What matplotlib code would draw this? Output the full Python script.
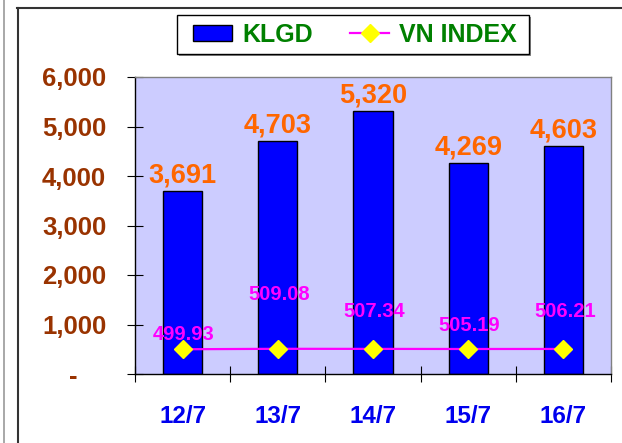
import matplotlib
matplotlib.use("Agg")
import matplotlib.pyplot as plt
from matplotlib.lines import Line2D
from matplotlib.patches import Rectangle
import numpy as np

plt.rcParams['font.family'] = ['Liberation Sans', 'DejaVu Sans']
plt.rcParams['font.weight'] = 'bold'

# ---- data ----
categories = ['12/7', '13/7', '14/7', '15/7', '16/7']
klgd = [3691, 4703, 5320, 4269, 4603]
klgd_labels = ['3,691', '4,703', '5,320', '4,269', '4,603']
vn_index = [499.93, 509.08, 507.34, 505.19, 506.21]
vn_labels = ['499.93', '509.08', '507.34', '505.19', '506.21']
ytick_values = [0, 1000, 2000, 3000, 4000, 5000, 6000]
ytick_labels = ['-    ', '1,000', '2,000', '3,000', '4,000', '5,000', '6,000']

# label vertical offsets (points) for VN INDEX labels, as in the original
vn_label_dy = [6.5, 35, 23, 13, 23]

W, H = 622, 443
fig = plt.figure(figsize=(W / 100, H / 100), dpi=100)
fig.patch.set_facecolor('white')

ax = fig.add_axes([135 / W, 1 - 374 / H, 476 / W, 297 / H])
ax.set_facecolor('#ccccff')

x = np.arange(len(categories))
bars = ax.bar(x, klgd, width=0.41, color='#0000ff', edgecolor='black',
              linewidth=1.0, label='KLGD', zorder=2)
line, = ax.plot(x, vn_index, color='#ff00ff', linewidth=1.6, marker='D',
                markersize=9.5, markerfacecolor='#ffff00',
                markeredgecolor='#ffff00', label='VN INDEX', zorder=3)

for xi, v, lab in zip(x, klgd, klgd_labels):
    ax.annotate(lab, (xi, v), xytext=(0, 6), textcoords='offset points',
                ha='center', va='baseline', color='#ff6600',
                fontsize=19.5, fontweight='bold')

for xi, v, lab, dy in zip(x, vn_index, vn_labels, vn_label_dy):
    ax.annotate(lab, (xi, v), xytext=(1, dy), textcoords='offset points',
                ha='center', va='baseline', color='#ff00ff',
                fontsize=14.5, fontweight='bold', zorder=4)

ax.set_xlim(-0.5, len(categories) - 0.5)
ax.set_ylim(0, 6000)

ax.set_yticks(ytick_values)
ax.set_yticklabels(ytick_labels)
ax.tick_params(axis='y', direction='inout', length=11.5, width=0.8,
               pad=15, labelsize=18.5, labelcolor='#993300', color='black')

ax.set_xticks(x)
ax.set_xticklabels(categories)
ax.set_xticks(np.arange(-0.5, len(categories), 1.0), minor=True)
ax.tick_params(axis='x', which='major', length=0, pad=22, labelsize=17.5,
               labelcolor='#0000ee')
ax.tick_params(axis='x', which='minor', direction='inout', length=11.5,
               width=0.8, color='black')
for t in ax.get_yticklabels() + ax.get_xticklabels():
    t.set_fontweight('bold')

ax.spines['left'].set_color('black')
ax.spines['bottom'].set_color('black')
ax.spines['top'].set_color('#808080')
ax.spines['right'].set_color('#808080')
for s in ax.spines.values():
    s.set_linewidth(1.0)

# legend (frame drawn separately to match original box)
leg = fig.legend(handles=[bars, line], labels=['KLGD', 'VN INDEX'],
                 loc='center', bbox_to_anchor=(355 / W, 1 - 34.5 / H),
                 bbox_transform=fig.transFigure, ncol=2, frameon=False,
                 fontsize=18, handlelength=1.55, handleheight=0.6,
                 handletextpad=0.4, columnspacing=1.5, borderpad=0.35)
for t in leg.get_texts():
    t.set_color('#008000')
    t.set_fontweight('bold')

# legend box with slight shadow
fig.add_artist(Rectangle((179 / W, 1 - 56 / H), 352 / W, 39 / H,
                         transform=fig.transFigure, facecolor='#888888',
                         edgecolor='none', zorder=0.5))
fig.add_artist(Rectangle((177 / W, 1 - 54 / H), 352 / W, 39 / H,
                         transform=fig.transFigure, facecolor='white',
                         edgecolor='black', linewidth=1.0, zorder=0.6))

# outer frame lines
fig.add_artist(Line2D([3.5 / W, 3.5 / W], [0, 1], transform=fig.transFigure,
                      color='#999999', linewidth=1.2))
fig.add_artist(Line2D([17.5 / W, 17.5 / W], [0, 1 - 8 / H],
                      transform=fig.transFigure, color='#333333', linewidth=1.5))
fig.add_artist(Line2D([17 / W, 1], [1 - 8 / H, 1 - 8 / H],
                      transform=fig.transFigure, color='#333333', linewidth=1.5))

fig.savefig('out.png', dpi=100)
